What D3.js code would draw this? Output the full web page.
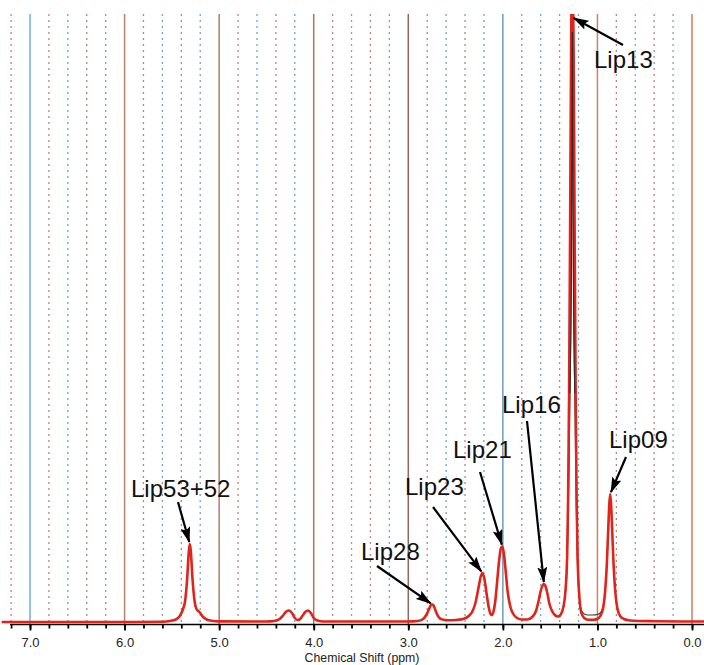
<!DOCTYPE html>
<html><head><meta charset="utf-8">
<script src="https://cdn.jsdelivr.net/npm/d3@7"></script>
<style>
html,body{margin:0;padding:0;background:#fff;}
svg{display:block;}
</style></head>
<body>
<svg id="chart" width="704" height="665"></svg>
<script>
// ---------------- DATA ----------------
// Fitted spectrum (red): [chemical shift ppm, intensity a.u.]
const fitSpectrum = [
 [7.30,1],[6.00,1],[5.60,1.3],[5.52,2],[5.46,3.5],[5.42,6.5],[5.39,12],[5.36,22],[5.34,42],[5.32,72],[5.31,79],[5.30,72],[5.28,42],[5.26,22],[5.24,14],[5.22,12],[5.20,10],[5.17,6],[5.13,3.5],[5.08,2.2],[5.00,1.6],
 [4.50,1.5],[4.42,2],[4.36,4],[4.32,8],[4.29,11.5],[4.26,12.5],[4.23,10],[4.20,5],[4.17,3],[4.15,3.5],[4.12,7],[4.09,11],[4.06,12.5],[4.03,10],[4.00,5],[3.96,2.5],[3.90,1.5],
 [3.00,1.5],[2.90,2],[2.85,3.5],[2.81,8],[2.78,14],[2.76,18],[2.745,18.5],[2.73,17],[2.71,12],[2.68,6],[2.64,3.5],[2.58,2.8],
 [2.50,3],[2.42,4],[2.36,7],[2.32,12],[2.29,20],[2.26,34],[2.235,46],[2.215,50],[2.195,44],[2.17,28],[2.15,16],[2.13,9],[2.115,8],[2.10,11],[2.08,22],[2.06,42],[2.04,62],[2.02,75],[2.005,76.5],[1.99,70],[1.97,52],[1.95,32],[1.92,16],[1.89,9],[1.85,5],[1.80,3.5],
 [1.74,3.5],[1.69,6],[1.65,12],[1.62,23],[1.60,32],[1.58,37.5],[1.565,39],[1.55,37],[1.53,30],[1.51,20],[1.48,12],[1.45,8],[1.42,6.5],[1.40,7],[1.38,10],[1.36,16],[1.34,30],
 [1.32,68],[1.31,125],[1.30,225],[1.29,375],[1.28,545],[1.265,700],[1.25,545],[1.24,375],[1.23,225],[1.22,125],[1.21,68],[1.19,25],[1.17,10],[1.14,5],[1.10,3.2],[1.05,3.2],[1.00,4],
 [0.97,7],[0.94,15],[0.92,30],[0.90,60],[0.885,95],[0.875,118],[0.865,129],[0.855,118],[0.845,95],[0.83,60],[0.81,30],[0.79,15],[0.76,7],[0.72,4],[0.66,2.5],[0.55,2],[0.40,1.8],[0.00,1.5],[-0.15,1.5]
];
// Measured spectrum (dark) where it departs from the fit (Lip13 / Lip09 region)
const measuredSpectrum = [
 [1.45,8],[1.42,6.5],[1.40,7],[1.38,10],[1.36,16],[1.34,28],[1.32,60],[1.31,100],[1.30,160],[1.29,230],[1.28,300],[1.275,360],[1.27,480],[1.265,591],[1.26,480],[1.255,360],[1.25,300],[1.24,230],[1.23,160],[1.22,95],[1.21,55],[1.19,24],[1.17,13],[1.14,9],[1.10,8],[1.05,8],[1.00,8.5],[0.97,10],[0.94,16],[0.92,30],[0.90,60],[0.885,95],[0.875,118],[0.865,128],[0.855,118],[0.845,95],[0.83,60],[0.81,30],[0.79,15],[0.76,7]
];
// Peak annotations
const peakLabels = ["Lip53+52","Lip28","Lip23","Lip21","Lip16","Lip13","Lip09"];
const peakPpm    = [5.31, 2.745, 2.215, 2.005, 1.565, 1.27, 0.865];
const peakHeight = [79, 18.5, 50, 76.5, 39, 609, 129];
// Axis ticks
const majorTicks = [7,6,5,4,3,2,1,0];
const tickLabels = ["7.0","6.0","5.0","4.0","3.0","2.0","1.0","0.0"];
const minorTicks = [7.2,7.0,6.8,6.6,6.4,6.2,6.0,5.8,5.6,5.4,5.2,5.0,4.8,4.6,4.4,4.2,4.0,3.8,3.6,3.4,3.2,3.0,2.8,2.6,2.4,2.2,2.0,1.8,1.6,1.4,1.2,1.0,0.8,0.6,0.4,0.2,0.0];
const dottedGrid = [7.2,6.8,6.6,6.4,6.2,5.8,5.6,5.4,5.2,4.8,4.6,4.4,4.2,3.8,3.6,3.4,3.2,2.8,2.6,2.4,2.2,1.8,1.6,1.4,1.2,0.8,0.6,0.4,0.2];
const axisTitle = "Chemical Shift (ppm)";

// ---------------- LAYOUT / STYLE ----------------
const W = 704, H = 665;
const plotTop = 14, baseY = 623, axisY = 624.5;
const x = d3.scaleLinear().domain([7, 0]).range([30, 692]);
const y = d3.scaleLinear().domain([0, 609]).range([baseY, plotTop]);
const majorColors = ["#74acd6","#b5806e","#ad7d6c","#a87564","#8f6a5c","#6f9cb8","#cc8262","#d47a5c"];
const dotColorA = "#c08080", dotColorB = "#72a4c4";
// label layout in px: text start x, baseline y, arrow tail x,y
const labelLayout = [
  {tx:131, ty:497, ax:178, ay:502},
  {tx:361, ty:560, ax:377, ay:566},
  {tx:405, ty:495, ax:433, ay:507},
  {tx:453, ty:458, ax:480, ay:472},
  {tx:502, ty:413, ax:527, ay:421},
  {tx:594, ty:68,  ax:623, ay:45},
  {tx:609, ty:448, ax:626, ay:457}
];

const svg = d3.select("#chart");
const defs = svg.append("defs");
defs.append("clipPath").attr("id","plotclip").append("rect")
  .attr("x",0).attr("y",plotTop).attr("width",W).attr("height",baseY+6-plotTop);
defs.append("marker").attr("id","arrow").attr("markerUnits","userSpaceOnUse")
  .attr("viewBox","0 0 16 10").attr("refX",15).attr("refY",5)
  .attr("markerWidth",16).attr("markerHeight",10).attr("orient","auto")
  .append("path").attr("d","M0,0 L16,5 L0,10 L3,5 Z").attr("fill","#000");

// grid: dotted lines every 0.2 ppm
svg.append("g").selectAll("line").data(dottedGrid).join("line")
  .attr("x1",d=>x(d)).attr("x2",d=>x(d)).attr("y1",plotTop).attr("y2",axisY)
  .attr("stroke",d=>{const t=Math.round(d*10)%10; return (t===6||t===2)&&d<7?dotColorB:dotColorA;})
  .attr("stroke-width",1.3).attr("stroke-dasharray","2,4");
// grid: solid integer lines
svg.append("g").selectAll("line").data(majorTicks).join("line")
  .attr("x1",d=>x(d)).attr("x2",d=>x(d)).attr("y1",plotTop).attr("y2",axisY)
  .attr("stroke",(d,i)=>majorColors[i]).attr("stroke-width",1.5);

// axis
const gAxis = svg.append("g").attr("transform",`translate(0,${axisY})`);
gAxis.append("line").attr("x1",10).attr("x2",W).attr("y1",0).attr("y2",0).attr("stroke","#000").attr("stroke-width",1.6);
const minorAxis = d3.axisBottom(x).tickValues(minorTicks).tickSize(4).tickFormat("");
const gMin = gAxis.append("g").call(minorAxis);
gMin.select(".domain").remove();
gMin.selectAll("line").attr("stroke","#000").attr("stroke-width",1.8);
const majorAxis = d3.axisBottom(x).tickValues(majorTicks).tickSize(6).tickPadding(7)
  .tickFormat((d,i)=>tickLabels[i]);
const gMaj = gAxis.append("g").call(majorAxis);
gMaj.select(".domain").remove();
gMaj.selectAll("line").attr("stroke","#000").attr("stroke-width",1.8);
gMaj.selectAll("text").attr("font-family","'Liberation Sans', Arial, sans-serif")
  .attr("font-size",13).attr("fill","#222");
svg.append("text").attr("x",362).attr("y",662).attr("text-anchor","middle")
  .attr("font-family","'Liberation Sans', Arial, sans-serif").attr("font-size",12.3).attr("fill","#222")
  .text(axisTitle);

// spectra
const line = d3.line().x(d=>x(d[0])).y(d=>y(d[1])).curve(d3.curveMonotoneX);
const gSpec = svg.append("g").attr("clip-path","url(#plotclip)");
gSpec.append("path").datum(measuredSpectrum).attr("d",line)
  .attr("fill","none").attr("stroke","#3a3a3a").attr("stroke-width",1.1);
gSpec.append("path").datum(fitSpectrum).attr("d",line)
  .attr("fill","none").attr("stroke","#e2231a").attr("stroke-width",2.6).attr("stroke-linejoin","round");
gSpec.append("path").datum(measuredSpectrum.filter(d=>d[0]<=1.29&&d[0]>=1.24)).attr("d",line)
  .attr("fill","none").attr("stroke","#2a2a2a").attr("stroke-width",1);

// annotations
const gAnn = svg.append("g");
peakLabels.forEach((lab,i)=>{
  const L = labelLayout[i];
  let hx = x(peakPpm[i]), hy = Math.max(y(peakHeight[i]), plotTop+3);
  const dx = hx-L.ax, dy = hy-L.ay, len = Math.hypot(dx,dy);
  hx -= dx/len*2; hy -= dy/len*2;
  gAnn.append("line").attr("x1",L.ax).attr("y1",L.ay).attr("x2",hx).attr("y2",hy)
    .attr("stroke","#000").attr("stroke-width",2.2).attr("marker-end","url(#arrow)");
  gAnn.append("text").attr("x",L.tx).attr("y",L.ty)
    .attr("font-family","'Liberation Sans', Arial, sans-serif").attr("font-size",24)
    .attr("fill","#111").text(lab);
});
</script>
</body></html>
